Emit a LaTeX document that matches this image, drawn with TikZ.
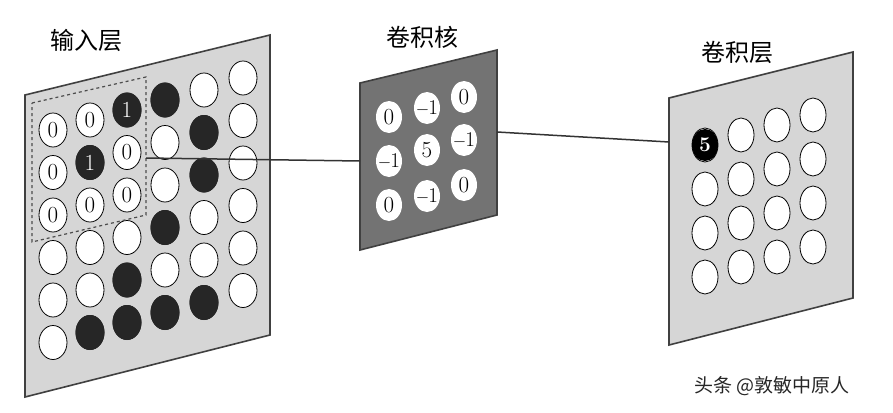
\documentclass[tikz,border=0pt]{standalone}
\usepackage{fontspec}
\newfontfamily\cjk{Noto Sans CJK SC}
\newcommand{\mone}{{\fontsize{17}{17}\selectfont$-$\kern-1pt\fontsize{21}{21}\selectfont1}}
\begin{document}
\begin{tikzpicture}[x=1pt,y=-1pt,
 panel/.style={draw=black!75,line width=1.6pt},
 lbl/.style={font=\cjk\fontsize{24}{24}\selectfont,anchor=center},
 num/.style={font=\fontsize{23}{23}\selectfont,inner sep=0pt}]
\fill[white] (0,0) rectangle (893,412);
\useasboundingbox (0,0) rectangle (893,412);
% input panel
\filldraw[panel,fill=black!16] (25,95) -- (270,35) -- (270,335) -- (25,397) -- cycle;
\def\colx{{53,90,127,165,204,243}}
\def\coly{{130,120,110,100,90,78}}
\foreach \c in {0,...,5}{
 \foreach \r in {0,...,5}{
  \pgfmathsetmacro\xx{\colx[\c]}
  \pgfmathsetmacro\yy{\coly[\c]+42.5*\r}
  \draw[line width=0.8pt,fill=white] (\xx,\yy) ellipse (14 and 17);
 }}
\foreach \c/\r in {1/1,1/5,2/0,2/4,2/5,3/0,3/3,3/5,4/1,4/2,4/5}{
  \pgfmathsetmacro\xx{\colx[\c]}
  \pgfmathsetmacro\yy{\coly[\c]+42.5*\r}
  \fill[black!85] (\xx,\yy) ellipse (14.5 and 17.5);
}
\foreach \c/\r/\v/\col in {0/0/0/black,0/1/0/black,0/2/0/black,1/0/0/black,1/1/1/white,1/2/0/black,2/0/1/white,2/1/0/black,2/2/0/black}{
  \pgfmathsetmacro\xx{\colx[\c]}
  \pgfmathsetmacro\yy{\coly[\c]+42.5*\r}
  \node[num,text=\col] (in\c\r) at (\xx,\yy) {\v};
}
\draw[dashed,line width=1.2pt,black!70] (32,103) -- (146,77) -- (146,215) -- (32,242) -- cycle;
\coordinate (win) at (146,158);
\node[lbl] (t1) at (86,40) {输入层};
% kernel
\filldraw[panel,fill=black!55] (360,83) -- (497,50) -- (497,215) -- (360,250) -- cycle;
\foreach \x/\y/\v [count=\i] in {389/117/0,389/161/\mone,389/205/0,427/108/\mone,427/150/5,427/196/\mone,464/97/0,464/140/\mone,464/185/0}{
  \fill[white] (\x,\y) ellipse (13 and 16);
  \node[num] (k\i) at (\x,\y) {\v};
}
\node[lbl] (t2) at (422,37) {卷积核};
\coordinate (kl) at (360,161);
\coordinate (kr) at (497,132);
% output
\filldraw[panel,fill=black!16] (669,98) -- (853,52) -- (853,298) -- (669,345) -- cycle;
\def\ox{{705,741,777,813}}
\def\oy{{145,135,125,115}}
\foreach \c in {0,...,3}{
 \foreach \r in {0,...,3}{
  \pgfmathsetmacro\xx{\ox[\c]}
  \pgfmathsetmacro\yy{\oy[\c]+44*\r}
  \draw[line width=0.8pt,fill=white] (\xx,\yy) ellipse (13 and 17);
 }}
\fill[black] (705,145) ellipse (13 and 16);
\node[num,text=white,font=\bfseries\fontsize{21}{21}\selectfont] (o5) at (705,145) {5};
\coordinate (ol) at (669,142);
\node[lbl] (t3) at (737,52) {卷积层};
% connectors
\draw[line width=1.5pt,black!80] (win) -- (kl);
\draw[line width=1.5pt,black!80] (kr) -- (ol);
\node[font=\cjk\fontsize{19}{19}\selectfont,black!85] (wm) at (772,386) {头条 @敦敏中原人};
\end{tikzpicture}
\end{document}
